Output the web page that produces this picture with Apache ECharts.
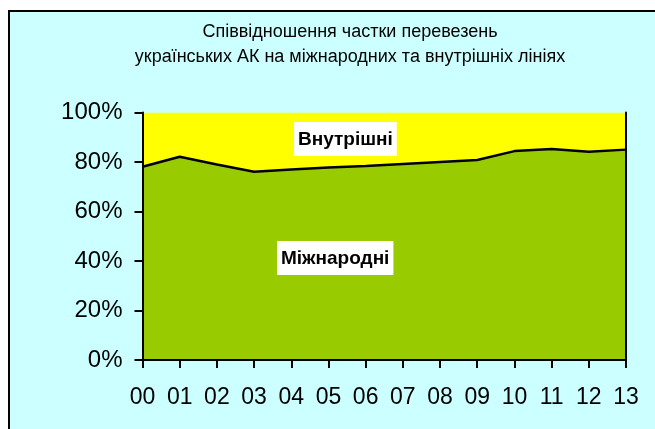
<!DOCTYPE html>
<html>
<head>
<meta charset="utf-8">
<script src="https://cdn.jsdelivr.net/npm/echarts@6/dist/echarts.min.js"></script>
<style>
    html, body { margin: 0; padding: 0; background: #fff; }
    #chart { width: 655px; height: 429px; }
</style>
</head>
<body>
<div id="chart"></div>
<script>
// years 2000..2013
const years = ["00", "01", "02", "03", "04", "05", "06", "07", "08", "09", "10", "11", "12", "13"]
// share of international traffic, %
const international = [78.1, 82.1, 79.0, 76.1, 77.0, 77.8, 78.4, 79.2, 80.0, 80.8, 84.4, 85.3, 84.1, 85.0]
// domestic is what's left to 100%
const domestic = international.map(v => +(100 - v).toFixed(1))

const font = "'Liberation Sans', Arial, sans-serif"

const chart = echarts.init(document.getElementById("chart"))

const option = {
    backgroundColor: "#fff",
    animation: false,
    title: {
        text: "Співвідношення частки перевезень\nукраїнських АК на міжнародних та внутрішніх лініях",
        left: 345,
        textAlign: "center",
        top: 15,
        textStyle: {
            fontFamily: font,
            fontSize: 18,
            fontWeight: "normal",
            color: "#000",
            lineHeight: 25,
        },
    },
    graphic: [
        {
            type: "rect",
            z: -10,
            shape: { x: 9, y: 11, width: 700, height: 500 },
            style: { fill: "#CCFFFF", stroke: "#000", lineWidth: 2 },
        },
        {
            type: "text",
            z: 100,
            left: 294,
            top: 122,
            style: {
                text: "Внутрішні",
                font: "bold 19px " + font,
                fill: "#000",
                backgroundColor: "#fff",
                padding: [8, 4, 7, 4],
            },
        },
        {
            type: "text",
            z: 100,
            left: 277,
            top: 241,
            style: {
                text: "Міжнародні",
                font: "bold 19px " + font,
                fill: "#000",
                backgroundColor: "#fff",
                padding: [8, 4, 7, 4],
            },
        },
    ],
    grid: {
        left: 142.5,
        right: 29,
        top: 112.5,
        bottom: 69,
    },
    xAxis: [
        {
            type: "category",
            boundaryGap: false,
            data: years,
            axisLine: { lineStyle: { color: "#000", width: 2 } },
            axisTick: { show: true, length: 8, lineStyle: { color: "#000", width: 2 } },
            axisLabel: { color: "#000", fontSize: 23, fontFamily: font, margin: 26, interval: 0 },
            splitLine: { show: false },
            z: 10,
        },
        {
            type: "category",
            position: "top",
            boundaryGap: false,
            data: years,
            axisLine: { lineStyle: { color: "#000", width: 2 } },
            axisTick: { show: false },
            axisLabel: { show: false },
            z: 10,
        },
    ],
    yAxis: [
        {
            type: "value",
            min: 0,
            max: 100,
            interval: 20,
            axisLine: { show: true, lineStyle: { color: "#000", width: 2 } },
            axisTick: { show: true, length: 8, lineStyle: { color: "#000", width: 2 } },
            axisLabel: { color: "#000", fontSize: 24, fontFamily: font, margin: 20, formatter: "{value}%" },
            splitLine: { show: false },
            z: 10,
        },
        {
            type: "value",
            position: "right",
            min: 0,
            max: 100,
            interval: 20,
            axisLine: { show: true, lineStyle: { color: "#000", width: 2 } },
            axisTick: { show: false },
            axisLabel: { show: false },
            splitLine: { show: false },
            z: 10,
        },
    ],
    series: [
        {
            name: "Міжнародні",
            type: "line",
            stack: "total",
            data: international,
            symbol: "none",
            lineStyle: { color: "#000", width: 2.5 },
            areaStyle: { color: "#99CC00", opacity: 1 },
            z: 3,
        },
        {
            name: "Внутрішні",
            type: "line",
            stack: "total",
            data: domestic,
            symbol: "none",
            lineStyle: { width: 0 },
            areaStyle: { color: "#FFFF00", opacity: 1 },
            z: 2,
        },
    ],
}

chart.setOption(option)
</script>
</body>
</html>
